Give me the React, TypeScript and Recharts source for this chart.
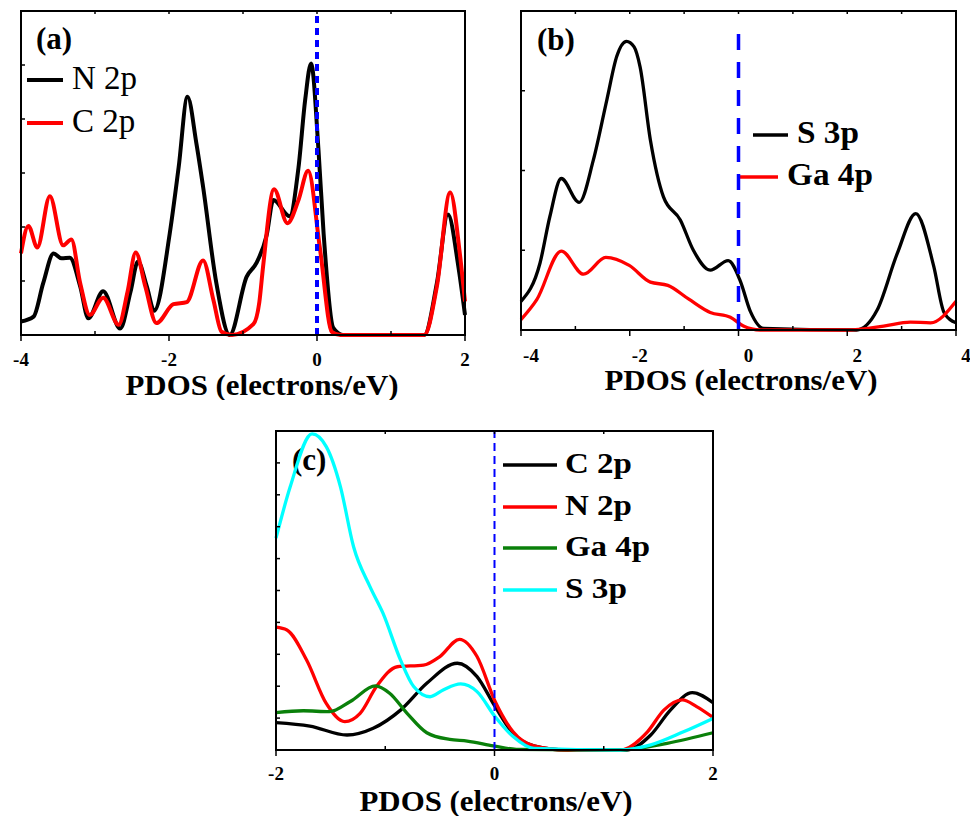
import { LineChart, Line, XAxis, YAxis, ReferenceLine, Label } from 'recharts';

const serif = '"Liberation Serif", "Times New Roman", serif';
const TITLE = 'PDOS (electrons/eV)';

// ---- panel (a) ----
const aN2pE = [-4, -3.83, -3.7, -3.56, -3.45, -3.34, -3.2, -3.09, -2.89, -2.66, -2.52, -2.42, -2.3, -2.2, -1.99, -1.87, -1.75, -1.63, -1.54, -1.36, -1.18, -0.95, -0.82, -0.68, -0.59, -0.37, -0.25, -0.16, -0.08, 0.02, 0.09, 0.22, 0.35, 1.45, 1.62, 1.77, 1.91, 2];
const aN2pDos = [0.25, 0.34, 0.96, 1.51, 1.42, 1.43, 0.9, 0.31, 0.81, 0.12, 0.8, 1.36, 0.9, 0.45, 1.88, 3.1, 4.41, 3.55, 2.75, 0.96, 0, 1.08, 1.33, 1.85, 2.5, 2.2, 3.1, 4.35, 5.03, 3.43, 1.87, 0.13, 0, 0, 0.96, 2.23, 1.27, 0.37];
const aC2pE = [-4, -3.9, -3.78, -3.61, -3.43, -3.32, -3.2, -3.07, -2.89, -2.68, -2.56, -2.45, -2.32, -2.17, -1.94, -1.76, -1.54, -1.4, -1.29, -1.15, -0.86, -0.78, -0.73, -0.58, -0.4, -0.25, -0.12, 0.04, 0.2, 0.32, 1.45, 1.62, 1.8, 1.93, 2];
const aC2pDos = [1.51, 2.02, 1.62, 2.57, 1.66, 1.77, 0.96, 0.37, 0.69, 0.19, 0.8, 1.53, 0.9, 0.22, 0.57, 0.61, 1.38, 0.65, 0.06, 0, 0.2, 0.6, 1.25, 2.7, 2.07, 2.5, 3.04, 1.6, 0.06, 0, 0, 0.9, 2.64, 1.51, 0.62];
const aTicksX = [-4, -3, -2, -1, 0, 1, 2];
const aTicksY = [0, 1, 2, 3, 4, 5, 6];
const aDomX = [-4, 2];
const aDomY = [0, 6];

// ---- panel (b) ----
const bS3pE = [-4, -3.65, -3.47, -3.26, -2.93, -2.67, -2.42, -2.24, -2.06, -1.92, -1.81, -1.62, -1.38, -1.07, -0.83, -0.52, -0.19, 0.03, 0.22, 0.46, 2.17, 2.55, 2.92, 3.26, 3.59, 3.78, 4];
const bS3pDos = [0.36, 0.84, 1.42, 1.9, 1.6, 2.13, 2.89, 3.43, 3.62, 3.55, 3.3, 2.38, 1.67, 1.38, 1.0, 0.75, 0.87, 0.62, 0.23, 0.02, 0, 0.25, 0.96, 1.46, 0.8, 0.22, 0.09];
const bGa4pE = [-4, -3.71, -3.26, -2.85, -2.44, -2.01, -1.62, -1.3, -0.92, -0.52, -0.15, 0.09, 0.4, 2.0, 2.67, 3.16, 3.53, 4];
const bGa4pDos = [0.13, 0.38, 0.99, 0.7, 0.91, 0.81, 0.6, 0.56, 0.39, 0.22, 0.16, 0.05, 0, 0, 0.05, 0.1, 0.09, 0.36];
const bTicksX = [-4, -3, -2, -1, 0, 1, 2, 3, 4];
const bTicksY = [0, 1, 2, 3, 4];
const bDomX = [-4, 4];
const bDomY = [0, 4];

// ---- panel (c) ----
const cC2pE = [-2, -1.69, -1.35, -1.11, -0.86, -0.62, -0.34, -0.16, 0.006, 0.17, 0.36, 0.66, 1.21, 1.43, 1.61, 1.81, 2];
const cC2pDos = [0.86, 0.75, 0.47, 0.68, 1.25, 2.09, 2.72, 2.3, 1.36, 0.52, 0.13, 0, 0, 0.47, 1.25, 1.8, 1.48];
const cN2pE = [-2, -1.9, -1.72, -1.54, -1.37, -1.23, -1.08, -0.89, -0.65, -0.5, -0.32, -0.16, 0.006, 0.17, 0.36, 0.66, 1.15, 1.4, 1.55, 1.72, 1.85, 2];
const cN2pDos = [3.85, 3.76, 2.82, 1.46, 0.89, 1.15, 1.99, 2.61, 2.66, 2.93, 3.47, 2.93, 1.52, 0.57, 0.13, 0, 0, 0.57, 1.25, 1.57, 1.36, 1.02];
const cGa4pE = [-2, -1.75, -1.51, -1.32, -1.09, -0.96, -0.8, -0.62, -0.41, -0.25, -0.01, 0.2, 1.12, 1.58, 2];
const cGa4pDos = [1.17, 1.23, 1.2, 1.52, 2.01, 1.78, 1.15, 0.54, 0.33, 0.28, 0.13, 0.02, 0, 0.21, 0.54];
const cS3pE = [-2, -1.87, -1.67, -1.54, -1.41, -1.29, -1.14, -1.02, -0.86, -0.74, -0.59, -0.47, -0.31, -0.16, 0.006, 0.17, 0.36, 1.15, 1.43, 1.73, 2];
const cS3pDos = [6.64, 8.25, 9.91, 9.51, 8.25, 6.37, 5.12, 4.28, 2.82, 1.99, 1.67, 1.88, 2.07, 1.83, 1.04, 0.42, 0.05, 0, 0.16, 0.57, 0.99];
const cTicksX = [-2, -1, 0, 1, 2];
const cTicksY = [0, 1, 2, 3, 4, 5, 6, 7, 8, 9, 10];
const cDomX = [-2, 2];
const cDomY = [0, 10];

// merge several (x[], y[]) series into one table keyed by x
function merge(series: Record<string, [number[], number[]]>) {
  const rows = new Map<number, any>();
  Object.entries(series).forEach(([key, [xs, ys]]) => {
    xs.forEach((x, i) => {
      if (!rows.has(x)) rows.set(x, { x });
      rows.get(x)[key] = ys[i];
    });
  });
  return [...rows.values()].sort((p, q) => p.x - q.x);
}

const aData = merge({ n2p: [aN2pE, aN2pDos], c2p: [aC2pE, aC2pDos] });
const bData = merge({ s3p: [bS3pE, bS3pDos], ga4p: [bGa4pE, bGa4pDos] });
const cData = merge({ c2p: [cC2pE, cC2pDos], n2p: [cN2pE, cN2pDos], ga4p: [cGa4pE, cGa4pDos], s3p: [cS3pE, cS3pDos] });

// everything handed to the axes is defined once, at module level
const makeBottomTick = (dx: number, dy: number) => (props: any) => {
  const { x, y, payload } = props;
  const v = payload.value;
  const major = Math.abs(v) % 2 === 0;
  return (
    <g>
      <line x1={x} x2={x} y1={y} y2={major ? y + 6 : y - 4} stroke="#000" strokeWidth={1.5} />
      {major && (
        <text x={x + dx} y={y + dy} textAnchor="middle" fontFamily={serif} fontWeight="bold" fontSize={19} fill="#000">
          {v}
        </text>
      )}
    </g>
  );
};
const tickA = makeBottomTick(0, 31);
const tickB = makeBottomTick(10, 32);
const tickC = makeBottomTick(0, 30);
const topTick = (props: any) => <line x1={props.x} x2={props.x} y1={props.y} y2={props.y + 3} stroke="#000" strokeWidth={1.5} />;
const leftTick = (props: any) => <line x1={props.x} x2={props.x + 4} y1={props.y} y2={props.y} stroke="#000" strokeWidth={1.5} />;
const rightTick = (props: any) => <line x1={props.x} x2={props.x - 4} y1={props.y} y2={props.y} stroke="#000" strokeWidth={1.5} />;

const makeTitle = (tx: number, ty: number) => () => (
  <text x={tx} y={ty} textAnchor="middle" textLength={273} lengthAdjust="spacingAndGlyphs"
    fontFamily={serif} fontWeight="bold" fontSize={29} fill="#000">
    {TITLE}
  </text>
);
const titleA = makeTitle(262, 395);
const titleB = makeTitle(251, 390);
const titleC = makeTitle(256, 401);

const frameLine = { stroke: '#000', strokeWidth: 2 };
const marginA = { top: 10, left: 20, right: 24, bottom: 25 };
const marginB = { top: 10, left: 30, right: 21, bottom: 30 };
const marginC = { top: 20, left: 35, right: 26, bottom: 26 };
const segB = [{ x: 0, y: 0 }, { x: 0, y: 3.74 }];

interface Item { name: string; color: string; x1: number; x2: number; y: number; tx: number; width?: number }

function legendMarks(tag: string, tagX: number, tagY: number, items: Item[], fontSize: number, bold: boolean, lineW: number) {
  return (
    <g key="legend">
      <text x={tagX} y={tagY} fontFamily={serif} fontWeight="bold" fontSize={31} fill="#000">{tag}</text>
      {items.map((it) => (
        <g key={it.name}>
          <line x1={it.x1} x2={it.x2} y1={it.y} y2={it.y} stroke={it.color} strokeWidth={lineW} />
          <text
            x={it.tx}
            y={it.y + fontSize * 0.27}
            fontFamily={serif}
            fontWeight={bold ? 'bold' : 'normal'}
            fontSize={fontSize}
            fill="#000"
            {...(it.width ? { textLength: it.width, lengthAdjust: 'spacingAndGlyphs' } : {})}
          >
            {it.name}
          </text>
        </g>
      ))}
    </g>
  );
}

const legendA = legendMarks('(a)', 36, 49, [
  { name: 'N 2p', color: '#000000', x1: 27, x2: 63, y: 80, tx: 72 },
  { name: 'C 2p', color: '#ff0000', x1: 27, x2: 63, y: 123, tx: 72 },
], 33, false, 4);
const legendB = legendMarks('(b)', 47, 50, [
  { name: 'S 3p', color: '#000000', x1: 263, x2: 298, y: 135, tx: 307, width: 62 },
  { name: 'Ga 4p', color: '#ff0000', x1: 250, x2: 288, y: 177, tx: 297, width: 86 },
], 31, true, 3.3);
const legendC = legendMarks('(c)', 52, 60, [
  { name: 'C 2p', color: '#000000', x1: 263, x2: 317, y: 55, tx: 325, width: 67 },
  { name: 'N 2p', color: '#ff0000', x1: 263, x2: 317, y: 97, tx: 325, width: 67 },
  { name: 'Ga 4p', color: '#0a800a', x1: 263, x2: 317, y: 138, tx: 325, width: 85 },
  { name: 'S 3p', color: '#00ffff', x1: 263, x2: 317, y: 180, tx: 325, width: 62 },
], 30, true, 3.3);

// plot box outline, from the same margins the chart uses
const box = (w: number, h: number, m: typeof marginA) => (
  <rect key="box" x={m.left + 1} y={m.top + 1} width={w - m.left - m.right - 2} height={h - m.top - m.bottom - 40 - 1}
    fill="none" stroke="#000" strokeWidth={2} />
);

function series(key: string, name: string, color: string, w: number) {
  return (
    <Line key={key} name={name} dataKey={key} type="monotone" stroke={color} connectNulls
      strokeWidth={w} dot={false} activeDot={false} isAnimationActive={false} />
  );
}

export default function App() {
  return (
    <div style={{ margin: '-8px 0 0 -8px', width: 978, height: 816, position: 'relative', background: '#fff' }}>
      <div style={{ position: 'absolute', left: 0, top: 0 }}>
        <LineChart width={490} height={400} data={aData} margin={marginA}>
          <XAxis type="number" dataKey="x" domain={aDomX} ticks={aTicksX} interval={0}
            axisLine={frameLine} tickLine={false} tickSize={0} tickMargin={0} height={40} tick={tickA}>
            <Label content={titleA} />
          </XAxis>
          <YAxis type="number" domain={aDomY} ticks={aTicksY} interval={0} width={1}
            axisLine={frameLine} tickLine={false} tickSize={0} tickMargin={0} tick={leftTick} />
          <XAxis xAxisId="t" orientation="top" type="number" dataKey="x" domain={aDomX} ticks={aTicksX} interval={0}
            axisLine={frameLine} tickLine={false} tickSize={0} tickMargin={0} height={1} tick={topTick} />
          <YAxis yAxisId="r" orientation="right" type="number" domain={aDomY} ticks={aTicksY} interval={0} width={1}
            axisLine={frameLine} tickLine={false} tickSize={0} tickMargin={0} tick={rightTick} />
          {series('n2p', 'N 2p', '#000000', 4)}
          {series('c2p', 'C 2p', '#ff0000', 4)}
          <ReferenceLine x={0} stroke="#0000ff" strokeWidth={4} strokeDasharray="7 5" />
          {box(490, 400, marginA)}
          {legendA}
        </LineChart>
      </div>
      <div style={{ position: 'absolute', left: 490, top: 0 }}>
        <LineChart width={488} height={400} data={bData} margin={marginB}>
          <XAxis type="number" dataKey="x" domain={bDomX} ticks={bTicksX} interval={0}
            axisLine={frameLine} tickLine={false} tickSize={0} tickMargin={0} height={40} tick={tickB}>
            <Label content={titleB} />
          </XAxis>
          <YAxis type="number" domain={bDomY} ticks={bTicksY} interval={0} width={1}
            axisLine={frameLine} tickLine={false} tickSize={0} tickMargin={0} tick={leftTick} />
          <XAxis xAxisId="t" orientation="top" type="number" dataKey="x" domain={bDomX} ticks={bTicksX} interval={0}
            axisLine={frameLine} tickLine={false} tickSize={0} tickMargin={0} height={1} tick={topTick} />
          <YAxis yAxisId="r" orientation="right" type="number" domain={bDomY} ticks={bTicksY} interval={0} width={1}
            axisLine={frameLine} tickLine={false} tickSize={0} tickMargin={0} tick={rightTick} />
          {series('s3p', 'S 3p', '#000000', 3.3)}
          {series('ga4p', 'Ga 4p', '#ff0000', 3.3)}
          <ReferenceLine segment={segB} stroke="#0000ff" strokeWidth={3.5} strokeDasharray="16 12" />
          {box(488, 400, marginB)}
          {legendB}
        </LineChart>
      </div>
      <div style={{ position: 'absolute', left: 240, top: 410 }}>
        <LineChart width={500} height={406} data={cData} margin={marginC}>
          <XAxis type="number" dataKey="x" domain={cDomX} ticks={cTicksX} interval={0}
            axisLine={frameLine} tickLine={false} tickSize={0} tickMargin={0} height={40} tick={tickC}>
            <Label content={titleC} />
          </XAxis>
          <YAxis type="number" domain={cDomY} ticks={cTicksY} interval={0} width={1}
            axisLine={frameLine} tickLine={false} tickSize={0} tickMargin={0} tick={leftTick} />
          <XAxis xAxisId="t" orientation="top" type="number" dataKey="x" domain={cDomX} ticks={cTicksX} interval={0}
            axisLine={frameLine} tickLine={false} tickSize={0} tickMargin={0} height={1} tick={topTick} />
          <YAxis yAxisId="r" orientation="right" type="number" domain={cDomY} ticks={cTicksY} interval={0} width={1}
            axisLine={frameLine} tickLine={false} tickSize={0} tickMargin={0} tick={rightTick} />
          {series('c2p', 'C 2p', '#000000', 3.3)}
          {series('n2p', 'N 2p', '#ff0000', 3.3)}
          {series('ga4p', 'Ga 4p', '#0a800a', 3.3)}
          {series('s3p', 'S 3p', '#00ffff', 3.3)}
          <ReferenceLine x={0} stroke="#0000ff" strokeWidth={2} strokeDasharray="8 5" />
          {box(500, 406, marginC)}
          {legendC}
        </LineChart>
      </div>
    </div>
  );
}
